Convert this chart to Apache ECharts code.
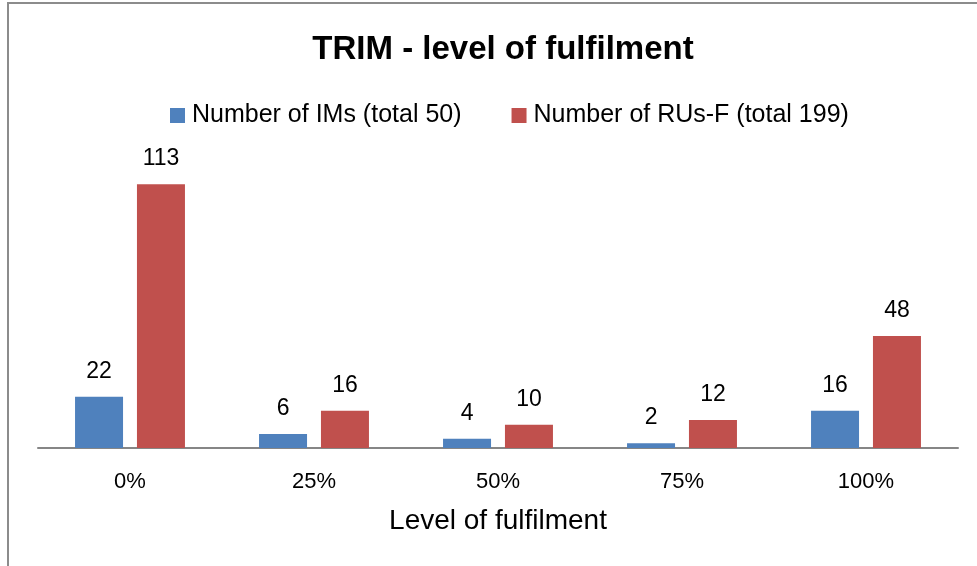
<!DOCTYPE html>
<html>
<head>
<meta charset="utf-8">
<script src="https://cdn.jsdelivr.net/npm/echarts@6/dist/echarts.min.js"></script>
<style>
  html, body { margin: 0; padding: 0; background: #fff; }
  #chart { width: 977px; height: 566px; }
</style>
</head>
<body>
<div id="chart"></div>
<script>
const categories = ['0%', '25%', '50%', '75%', '100%'];
const imsValues = [22, 6, 4, 2, 16];
const rusValues = [113, 16, 10, 12, 48];
const seriesNames = ['Number of IMs (total 50)', 'Number of RUs-F (total 199)'];

const FONT = 'Liberation Sans';

function initOpt() {
  const labelStyle = {
    show: true,
    position: 'top',
    distance: 14,
    color: '#000',
    fontSize: 23,
    fontFamily: FONT
  };
  return {
    animation: false,
    textStyle: { fontFamily: FONT },
    title: {
      text: 'TRIM - level of fulfilment',
      left: 498,
      top: 28,
      textAlign: 'center',
      textStyle: { fontSize: 33, fontWeight: 'bold', color: '#000', fontFamily: FONT }
    },
    legend: {
      top: 98,
      left: 165,
      itemWidth: 15,
      itemHeight: 15,
      itemGap: 50,
      icon: 'rect',
      textStyle: { fontSize: 25, color: '#000', fontFamily: FONT, padding: [0, 0, 0, 2] },
      data: seriesNames
    },
    grid: { left: 38, right: 19, top: 168, bottom: 118 },
    xAxis: {
      type: 'category',
      data: categories,
      name: 'Level of fulfilment',
      nameLocation: 'middle',
      nameGap: 59,
      nameTextStyle: { fontSize: 28, color: '#000', fontFamily: FONT },
      axisLine: { lineStyle: { color: '#868686', width: 2 } },
      axisTick: { show: false },
      axisLabel: { fontSize: 22, color: '#000', margin: 23, fontFamily: FONT }
    },
    yAxis: {
      type: 'value',
      min: 0,
      max: 120,
      show: false
    },
    series: [{
      name: seriesNames[0],
      type: 'bar',
      data: imsValues,
      barWidth: 48,
      barGap: '29%',
      itemStyle: { color: '#4F81BD' },
      label: labelStyle
    }, {
      name: seriesNames[1],
      type: 'bar',
      data: rusValues,
      barWidth: 48,
      itemStyle: { color: '#C0504D' },
      label: labelStyle
    }],
    graphic: [{
      type: 'polyline',
      shape: { points: [[8, 566], [8, 3], [977, 3]] },
      style: { stroke: '#8c8c8c', lineWidth: 2, fill: null }
    }]
  };
}

const myChart = echarts.init(document.getElementById('chart'));
myChart.setOption(initOpt());
</script>
</body>
</html>
